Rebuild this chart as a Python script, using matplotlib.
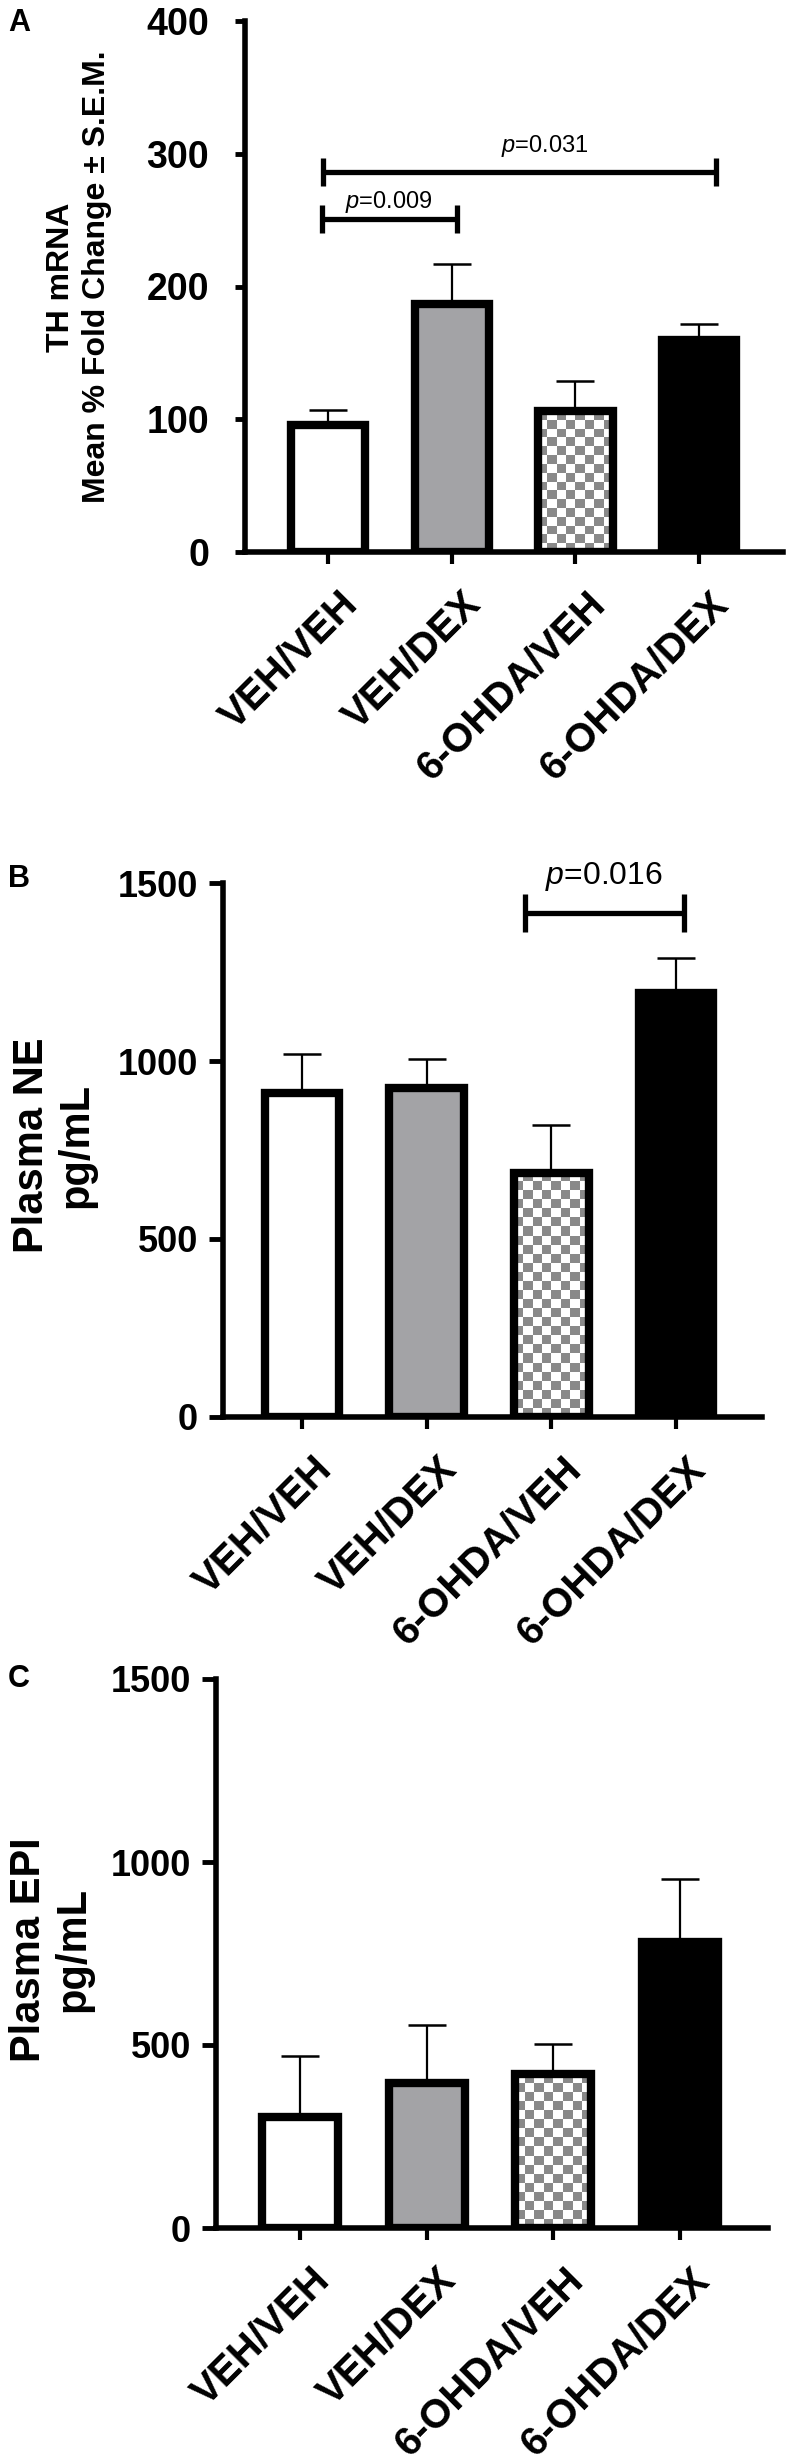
import numpy as np
import matplotlib
matplotlib.use('Agg')
from matplotlib import pyplot as plt
from matplotlib.transforms import ScaledTranslation

plt.rcParams['font.family'] = ['Liberation Sans', 'DejaVu Sans']
plt.rcParams['mathtext.fontset'] = 'custom'
plt.rcParams['mathtext.rm'] = 'Liberation Sans'
plt.rcParams['mathtext.it'] = 'Liberation Sans:italic'

# 데이터
groups = ['VEH/VEH', 'VEH/DEX', '6-OHDA/VEH', '6-OHDA/DEX']

# A: TH mRNA (mean % fold change, S.E.M.)
th_mean = [96, 187, 106, 160]
th_sem = [11, 30, 23, 12]

# B: plasma NE (pg/mL)
ne_mean = [909, 923, 686, 1192]
ne_sem = [111, 82, 134, 97]

# C: plasma EPI (pg/mL)
epi_mean = [302, 397, 420, 781]
epi_sem = [169, 158, 84, 173]

# significance brackets: (group a, group b, height, label)
th_brackets = [(0, 1, 251, r'$p$=0.009'), (0, 3, 286, r'$p$=0.031')]
ne_brackets = [(2, 3, 1415, r'$p$=0.016')]

W, H = 789, 2461
fig = plt.figure(figsize=(W / 100, H / 100), dpi=100)

bar_fill = ['white', '#a3a3a6', 'none', 'black']
checker_gray = np.array([0.54, 0.54, 0.54])


def px_axes(left, right, top, bottom):
    return fig.add_axes([left / W, 1 - bottom / H, (right - left) / W, (bottom - top) / H])


# 체크무늬 채우기 - 막대 모양으로 잘라낸 이미지
def checker_fill(ax, patch, cell=9):
    x0, w, h = patch.get_x(), patch.get_width(), patch.get_height()
    p0 = ax.transData.transform((x0, 0))
    p1 = ax.transData.transform((x0 + w, h))
    nx = max(1, int(round(abs(p1[0] - p0[0]) / cell)))
    ny = max(1, int(round(abs(p1[1] - p0[1]) / cell)))
    mask = np.add.outer(np.arange(ny), np.arange(nx)) % 2 == 1
    img = np.ones((ny, nx, 3))
    img[mask] = checker_gray
    ax.imshow(img, extent=(x0, x0 + w, 0, h), origin='lower', interpolation='nearest',
              aspect='auto', zorder=2.5, clip_path=patch)


def draw_panel(ax, means, sems, ymax, step, xlim, ytick_size, ytick_pad, ytick_len):
    x = np.arange(len(groups))
    ax.set_xlim(*xlim)
    ax.set_ylim(0, ymax)
    bars = ax.bar(x, means, width=0.6, color=bar_fill, edgecolor='black',
                  linewidth=6, zorder=3)
    ax.errorbar(x, means, yerr=[np.zeros(len(sems)), sems], fmt='none', ecolor='black',
                elinewidth=1.6, capsize=14, capthick=1.8, zorder=2)
    checker_fill(ax, bars[2])
    ax.set_xlim(*xlim)
    ax.set_ylim(0, ymax)

    for side in ['top', 'right']:
        ax.spines[side].set_visible(False)
    for side in ['left', 'bottom']:
        ax.spines[side].set_linewidth(4)

    yt = np.arange(0, ymax + 1, step)
    ax.set_yticks(yt, [str(v) for v in yt], fontweight='bold')
    ax.tick_params(axis='y', length=ytick_len, width=3.5, labelsize=ytick_size, pad=ytick_pad)
    ax.set_xticks(x, groups, rotation=45, ha='right', va='top', rotation_mode='anchor',
                  fontweight='bold')
    ax.tick_params(axis='x', length=8.6, width=3, labelsize=29, pad=15)
    shift = ScaledTranslation(0.1, 0, fig.dpi_scale_trans)
    for lab in ax.get_xticklabels():
        lab.set_transform(lab.get_transform() + shift)


def draw_brackets(ax, brackets, ends, half, label_off, fontsize):
    for (a, b, h, label), (ea, eb), (dx, dy) in zip(brackets, ends, label_off):
        xa, xb = a + ea, b + eb
        ax.plot([xa, xb], [h, h], color='black', lw=3.8, solid_capstyle='butt', clip_on=False, zorder=4)
        for xe in (xa, xb):
            ax.plot([xe, xe], [h - half, h + half], color='black', lw=3.8,
                    solid_capstyle='butt', clip_on=False, zorder=4)
        ax.annotate(label, xy=((xa + xb) / 2, h), xytext=(dx, dy), textcoords='offset points',
                    ha='center', va='center', fontsize=fontsize, annotation_clip=False)


# A
axA = px_axes(245, 783, 21, 552)
draw_panel(axA, th_mean, th_sem, 400, 100, (-0.671, 3.678), 27, 19, 7)
draw_brackets(axA, th_brackets, [(-0.05, 0.04), (-0.04, 0.14)], 10.5,
              [(0, 12.4), (18, 19)], 17)
fig.text(79 / W, 1 - 277 / H, 'TH mRNA\nMean % Fold Change ± S.E.M.', rotation=90,
         ha='center', va='center', multialignment='center', fontsize=23, fontweight='bold',
         linespacing=1.25)
fig.text(8 / W, 1 - 8 / H, 'A', ha='left', va='top', fontsize=22, fontweight='bold')

# B
axB = px_axes(223, 762, 883, 1417)
draw_panel(axB, ne_mean, ne_sem, 1500, 500, (-0.634, 3.689), 26, 8, 10)
draw_brackets(axB, ne_brackets, [(-0.21, 0.06)], 54, [(0, 26.6)], 23)
fig.text(54 / W, 1 - 1145 / H, 'Plasma NE\npg/mL', rotation=90, ha='center', va='center',
         multialignment='center', fontsize=30, fontweight='bold', linespacing=1.15)
fig.text(8 / W, 1 - 864 / H, 'B', ha='left', va='top', fontsize=22, fontweight='bold')

# C
axC = px_axes(216, 768, 1679, 2228)
draw_panel(axC, epi_mean, epi_sem, 1500, 500, (-0.663, 3.694), 26, 8, 10)
fig.text(51 / W, 1 - 1950 / H, 'Plasma EPI\npg/mL', rotation=90, ha='center', va='center',
         multialignment='center', fontsize=30, fontweight='bold', linespacing=1.15)
fig.text(8 / W, 1 - 1664 / H, 'C', ha='left', va='top', fontsize=22, fontweight='bold')

fig.savefig('out.png', dpi=100)
